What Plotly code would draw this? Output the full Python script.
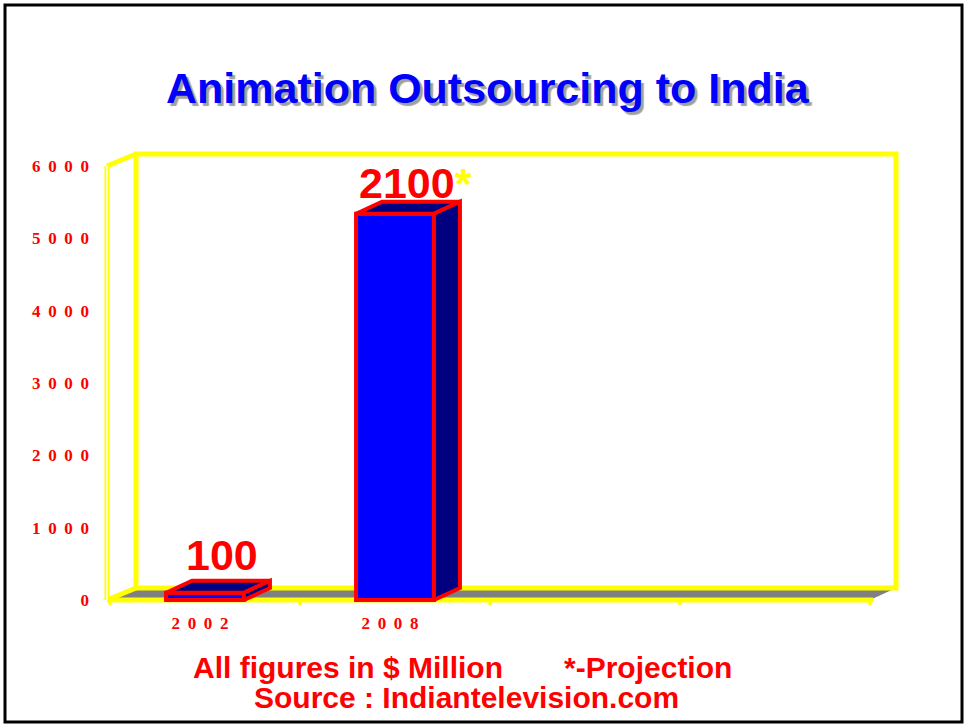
import plotly.graph_objects as go

# ---------------- data ----------------
categories = ["2002", "2008", "", ""]
bar_values = [100, 5340]
value_labels = ["100", "2100"]
label_marks = ["", "*"]
y_ticks = [0, 1000, 2000, 3000, 4000, 5000, 6000]
footnote_left = "All figures in $ Million"
footnote_right = "*-Projection"
source_text = "Source : Indiantelevision.com"
title_text = "Animation Outsourcing to India"

# ---------------- geometry / style ----------------
W, H = 965, 724
PL, PR, PT, PB = 100, 905, 140, 605          # plot area in pixels
X0PX, CATPX = 110, 190                         # front floor left px, px per category
Y0PX, YTOP_PX, YMAX = 600, 166, 6000
PPU = (Y0PX - YTOP_PX) / YMAX                  # pixels per value unit
DX = 26 / CATPX                                # depth offset (category units)
DY = 12 / PPU                                  # depth offset (value units)
NCAT = len(categories)
XL, XR = -0.5, NCAT - 0.5
XLF = XL - 3 / CATPX

xr = [-0.5 + (PL - X0PX) / CATPX, -0.5 + (PR - X0PX) / CATPX]
yr = [(Y0PX - PB) / PPU, (Y0PX - PT) / PPU]

def paper_x(px):
    return (px - PL) / (PR - PL)

def paper_y(py):
    return (PB - py) / (PB - PT)

YELLOW = "#FFFF00"
RED = "#FF0000"
BLUE = "#0000FF"
NAVY = "#000080"
BAR_W = 0.41

def spaced(s):
    return "\u00a0\u2009".join(list(s))

fig = go.Figure()

# ---------------- 3D top and side faces ----------------
for i, v in enumerate(bar_values):
    x0, x1 = i - BAR_W / 2, i + BAR_W / 2
    fig.add_trace(go.Scatter(
        x=[x0, x1, x1 + DX, x0 + DX, x0], y=[v, v, v + DY, v + DY, v],
        mode="lines", fill="toself", fillcolor=NAVY,
        line=dict(color=RED, width=4), hoverinfo="skip", showlegend=False))
    fig.add_trace(go.Scatter(
        x=[x1, x1 + DX, x1 + DX, x1, x1], y=[0, DY, v + DY, v, 0],
        mode="lines", fill="toself", fillcolor=NAVY,
        line=dict(color=RED, width=4), hoverinfo="skip", showlegend=False))

# ---------------- front faces ----------------
fig.add_trace(go.Bar(
    x=list(range(len(bar_values))), y=bar_values, width=BAR_W,
    marker=dict(color=BLUE, line=dict(color=RED, width=4)),
    hoverinfo="skip", showlegend=False))

# ---------------- walls and floor ----------------
shapes = []
shapes.append(dict(type="path", layer="below",
                   path=f"M {XL},0 L {XR},0 L {XR + DX},{DY} L {XL + DX},{DY} Z",
                   fillcolor="#808080", line=dict(width=0)))
shapes.append(dict(type="rect", layer="below", x0=XL + DX, x1=XR + DX, y0=DY, y1=YMAX + DY,
                   line=dict(color=YELLOW, width=5)))
for (xa, ya, xb, yb) in [(XLF, YMAX, XL + DX, YMAX + DY),
                         (XLF, 0, XL + DX, DY),
                         (XLF, 0, XLF, YMAX),
                         (XLF, 0, XR + 3 / CATPX, 0)]:
    shapes.append(dict(type="line", layer="below", x0=xa, y0=ya, x1=xb, y1=yb,
                       line=dict(color=YELLOW, width=5)))
shapes.append(dict(type="line", layer="below", x0=XLF, y0=0, x1=XLF, y1=YMAX,
                   line=dict(color="white", width=1.5)))
for k in range(NCAT + 1):
    xt = XL + k
    shapes.append(dict(type="line", layer="below", x0=xt, x1=xt, y0=0, y1=-8 / PPU,
                       line=dict(color=YELLOW, width=3)))
# outer black frame
shapes.append(dict(type="rect", xref="paper", yref="paper",
                   x0=paper_x(5), x1=paper_x(962), y0=paper_y(722), y1=paper_y(5),
                   line=dict(color="black", width=3)))

# ---------------- annotations ----------------
label_shift = [38, 31]
label_xoff = [0.02, 0.04]
annotations = []
for i, (v, t, m) in enumerate(zip(bar_values, value_labels, label_marks)):
    txt = t + (f"<span style='color:{YELLOW}'>{m}</span>" if m else "")
    annotations.append(dict(x=i + DX / 2 + label_xoff[i], y=v, xref="x", yref="y", text=txt,
                            showarrow=False, xanchor="center", yanchor="middle",
                            yshift=label_shift[i],
                            font=dict(family="Liberation Sans", size=43, color=RED, weight="bold")))

def paper_note(px, py, text, font):
    return dict(x=paper_x(px), y=paper_y(py), xref="paper", yref="paper", text=text,
                showarrow=False, xanchor="center", yanchor="middle", font=font)

annotations.append(paper_note(488, 88, title_text,
                              dict(family="Liberation Sans", size=43, color=BLUE, weight="bold",
                                   shadow="3px 3px 1px #A0A0A0")))
foot_font = dict(family="Liberation Sans", size=30, color=RED, weight="bold")
annotations.append(paper_note(348, 667, footnote_left, foot_font))
annotations.append(paper_note(648, 667, footnote_right, foot_font))
annotations.append(paper_note(466, 697, source_text, foot_font))

tick_font = dict(family="Liberation Serif", size=17, color=RED, weight="bold")

fig.update_layout(
    width=W, height=H, autosize=False,
    margin=dict(l=PL, r=W - PR, t=PT, b=H - PB, pad=0),
    paper_bgcolor="white", plot_bgcolor="white",
    shapes=shapes, annotations=annotations, showlegend=False,
    xaxis=dict(range=xr, showgrid=False, zeroline=False, showline=False, ticks="",
               tickmode="array", tickvals=list(range(NCAT)),
               ticktext=[spaced(c) for c in categories],
               tickfont=tick_font, ticklabelstandoff=6, ticklabelshift=-5),
    yaxis=dict(range=yr, showgrid=False, zeroline=False, showline=False, ticks="",
               tickmode="array", tickvals=y_ticks,
               ticktext=[spaced(str(v)) for v in y_ticks],
               tickfont=tick_font, ticklabelstandoff=10),
)

fig.write_html("out.html")
